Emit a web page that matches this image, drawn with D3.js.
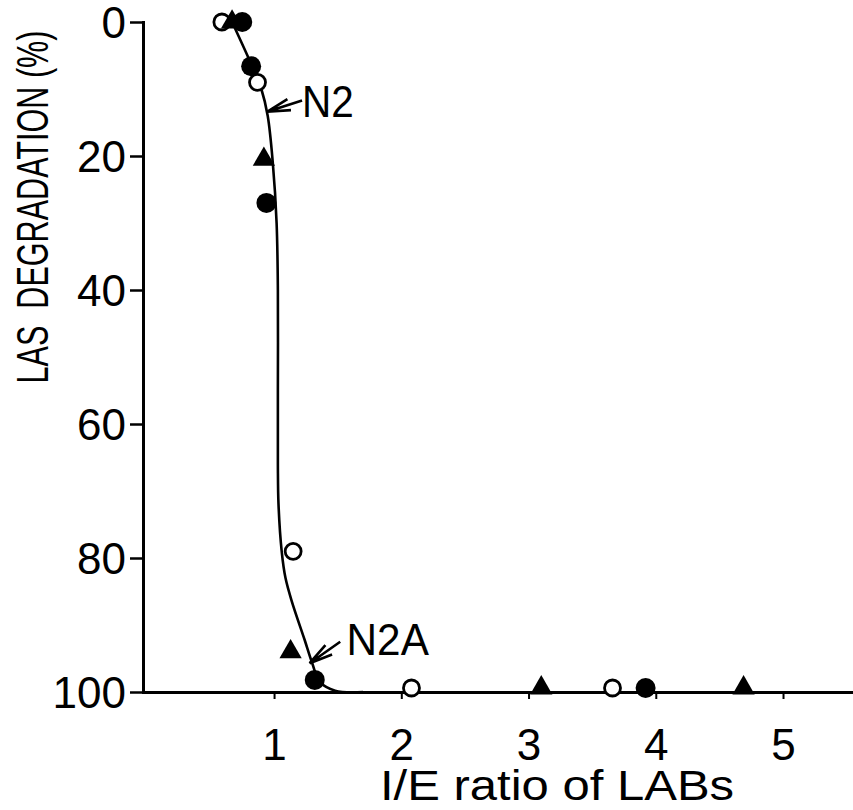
<!DOCTYPE html>
<html>
<head>
<meta charset="utf-8">
<script src="https://cdn.jsdelivr.net/npm/d3@7"></script>
<style>
  html, body { margin: 0; padding: 0; background: #fff; }
  svg { display: block; }
  text { font-family: "Liberation Sans", Arial, sans-serif; fill: #000; }
</style>
</head>
<body>
<div class="content"></div>
<script>
(function () {
    // tick labels
    let xTicks = [1, 2, 3, 4, 5];
    let yTicks = [0, 20, 40, 60, 80, 100];

    // I/E ratio, LAS degradation (%)
    let openCircles = [[0.59, 0], [0.87, 9], [1.15, 79], [2.08, 99.4], [3.66, 99.4]];
    let filledCircles = [[0.75, 0], [0.82, 6.6], [0.94, 27], [1.32, 98.2], [3.92, 99.4]];
    let triangles = [[0.67, 0], [0.92, 20.5], [1.13, 94], [3.10, 99.4], [4.69, 99.4]];

    // fitted curve
    let curvePts = [
        [0.67, 0], [0.83, 6.7], [0.9, 10], [0.95, 14], [0.99, 21], [1.02, 30],
        [1.03, 40], [1.03, 55], [1.03, 66], [1.035, 72], [1.06, 79], [1.09, 83],
        [1.14, 86.5], [1.24, 92.2], [1.30, 95.7], [1.36, 98.5], [1.48, 99.8], [1.7, 100]
    ];

    // annotations: label, text anchor point, arrow tail and tip (data units)
    let notes = [
        {label: 'N2', at: [1.22, 14.2], tail: [1.22, 11.7], tip: [0.945, 13.4], sx: 0.9},
        {label: 'N2A', at: [1.57, 94.5], tail: [1.52, 92.5], tip: [1.28, 95.7], sx: 0.94}
    ];

    let W = 853, H = 810;

    let x = d3.scaleLinear().domain([-0.03, 5.55]).range([143, 853]);
    let y = d3.scaleLinear().domain([0, 100]).range([22, 692]);

    let svg = d3.select('.content').append('svg')
        .attr('width', W)
        .attr('height', H);

    // axes
    let yAxis = d3.axisLeft(y)
        .tickValues(yTicks)
        .tickFormat(d3.format('d'))
        .tickSizeInner(13)
        .tickSizeOuter(0)
        .tickPadding(4);

    let xAxis = d3.axisBottom(x)
        .tickValues(xTicks)
        .tickFormat(d3.format('d'))
        .tickSizeInner(7)
        .tickSizeOuter(0)
        .tickPadding(30);

    let gY = svg.append('g')
        .attr('transform', 'translate(' + x.range()[0] + ',0)')
        .call(yAxis);

    let gX = svg.append('g')
        .attr('transform', 'translate(0,' + y(100) + ')')
        .call(xAxis);

    [gX, gY].forEach(function (g) {
        g.select('.domain').attr('stroke', '#000').attr('stroke-width', 3).attr('stroke-linecap', 'square');
        g.selectAll('.tick line').attr('stroke', '#000').attr('stroke-width', 2.5);
        g.selectAll('.tick text')
            .attr('font-family', '"Liberation Sans", Arial, sans-serif')
            .attr('font-size', 44)
            .attr('fill', '#000');
    });
    gX.selectAll('.tick line').attr('stroke-width', 2);
    gY.selectAll('.tick text').attr('dy', '0.36em');

    // axis titles (condensed drafting lettering)
    svg.append('text')
        .attr('transform', 'translate(48,207) rotate(-90) scale(0.68,1)')
        .attr('text-anchor', 'middle')
        .attr('font-size', 45)
        .text('LAS \u00a0DEGRADATION (%)');

    svg.append('text')
        .attr('transform', 'translate(380,800) scale(1.14,1)')
        .attr('font-size', 43)
        .text('I/E ratio of LABs');

    // curve
    let line = d3.line()
        .x(function (d) { return x(d[0]); })
        .y(function (d) { return y(d[1]); })
        .curve(d3.curveCatmullRom.alpha(0.5));

    svg.append('path')
        .datum(curvePts)
        .attr('fill', 'none')
        .attr('stroke', '#000')
        .attr('stroke-width', 2.6)
        .attr('d', line);

    // markers
    svg.append('g').selectAll('circle.open')
        .data(openCircles)
        .enter().append('circle')
        .attr('class', 'open')
        .attr('cx', function (d) { return x(d[0]); })
        .attr('cy', function (d) { return y(d[1]); })
        .attr('r', 8)
        .attr('fill', '#fff')
        .attr('stroke', '#000')
        .attr('stroke-width', 2.8);

    svg.append('g').selectAll('path.tri')
        .data(triangles)
        .enter().append('path')
        .attr('class', 'tri')
        .attr('d', d3.symbol().type(d3.symbolTriangle).size(215))
        .attr('transform', function (d) { return 'translate(' + x(d[0]) + ',' + y(d[1]) + ')'; })
        .attr('fill', '#000');

    svg.append('g').selectAll('circle.fill')
        .data(filledCircles)
        .enter().append('circle')
        .attr('class', 'fill')
        .attr('cx', function (d) { return x(d[0]); })
        .attr('cy', function (d) { return y(d[1]); })
        .attr('r', 10)
        .attr('fill', '#000');

    // annotations with arrows
    let gN = svg.append('g');
    notes.forEach(function (n) {
        let tx = x(n.tail[0]), ty = y(n.tail[1]);
        let px = x(n.tip[0]), py = y(n.tip[1]);
        let ang = Math.atan2(ty - py, tx - px);
        let hl = 24, ha = 14 * Math.PI / 180;
        let path = d3.path();
        path.moveTo(tx, ty);
        path.lineTo(px, py);
        path.moveTo(px + hl * Math.cos(ang - ha), py + hl * Math.sin(ang - ha));
        path.lineTo(px, py);
        path.lineTo(px + hl * Math.cos(ang + ha), py + hl * Math.sin(ang + ha));
        gN.append('path')
            .attr('d', path.toString())
            .attr('fill', 'none')
            .attr('stroke', '#000')
            .attr('stroke-width', 2.6);

        gN.append('text')
            .attr('transform', 'translate(' + x(n.at[0]) + ',' + y(n.at[1]) + ') scale(' + n.sx + ',1)')
            .attr('font-size', 45)
            .text(n.label);
    });
})();
</script>
</body>
</html>
